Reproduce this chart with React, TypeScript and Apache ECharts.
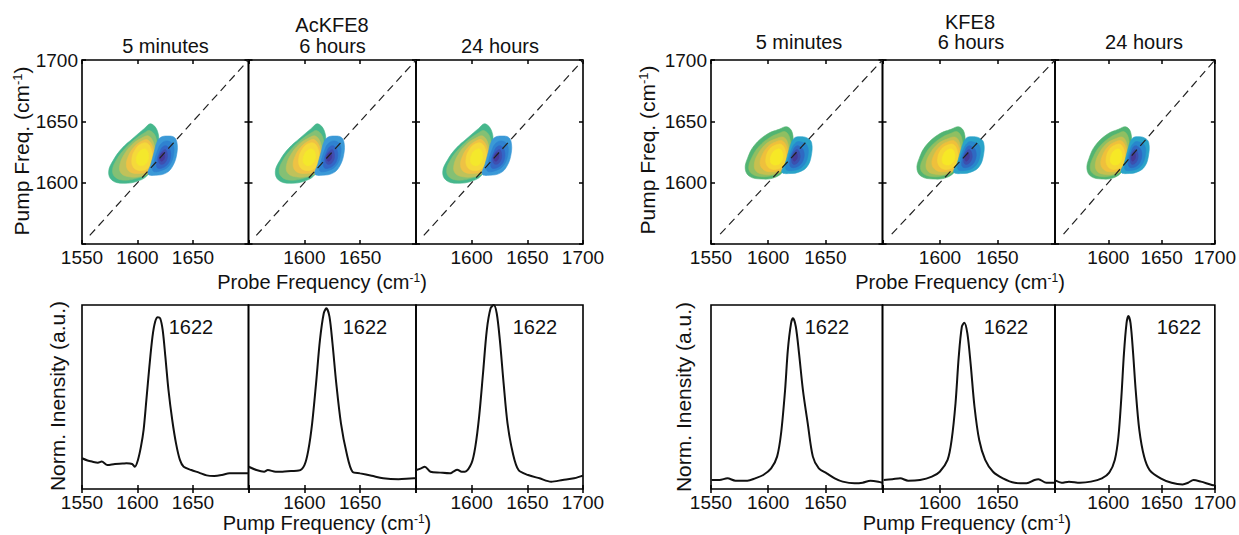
import React, { useEffect, useRef } from 'react';
import * as echarts from 'echarts';

const FONT = '"Liberation Sans", Arial, Helvetica, sans-serif';
const INK = '#111';

// ---------- texts / ticks ----------
const SAMPLES = ['AcKFE8', 'KFE8'];
const PANEL_TITLES = ['5 minutes', '6 hours', '24 hours'];
const X_TICKS = [1550, 1600, 1650, 1700];
const Y_TICKS = [1550, 1600, 1650, 1700];
const PEAK_LABEL = '1622';

// ---------- 1D pump-slice spectra [pump freq, norm. intensity] ----------
const AC_5MIN_SPEC = [[1550,0.167],[1555,0.155],[1559,0.149],[1564.3,0.143],[1567.7,0.149],[1572.9,0.130],[1579.7,0.136],[1586.6,0.138],[1590,0.140],[1595.2,0.136],[1597.6,0.121],[1600.4,0.158],[1603.1,0.230],[1605.5,0.321],[1608,0.484],[1610.7,0.665],[1613.5,0.828],[1615.9,0.909],[1618.3,0.933],[1620.4,0.928],[1622.7,0.864],[1625.1,0.719],[1627.9,0.538],[1631.3,0.375],[1634.7,0.248],[1638.2,0.158],[1641.6,0.121],[1648.5,0.103],[1655.4,0.089],[1662.3,0.074],[1669.1,0.071],[1676,0.076],[1682.9,0.085],[1696.7,0.085],[1700,0.085]];
const AC_6H_SPEC = [[1550.2,0.121],[1557.1,0.103],[1564,0.094],[1567.3,0.103],[1574.3,0.094],[1580.4,0.094],[1588,0.098],[1595,0.100],[1600.1,0.130],[1603.6,0.212],[1607,0.357],[1610.5,0.574],[1614,0.810],[1617.4,0.955],[1619.7,0.982],[1622.5,0.937],[1625.2,0.792],[1628.6,0.574],[1632.8,0.357],[1637.9,0.194],[1643.1,0.094],[1650,0.085],[1660.3,0.072],[1670.6,0.058],[1684.4,0.053],[1698.1,0.058],[1700,0.058]];
const AC_24H_SPEC = [[1550.3,0.103],[1554.5,0.112],[1557.9,0.121],[1563,0.094],[1571.7,0.089],[1580.3,0.085],[1583.5,0.094],[1587,0.105],[1591,0.094],[1594,0.094],[1599.9,0.140],[1603.3,0.230],[1606.7,0.393],[1610.2,0.629],[1613.6,0.864],[1617,0.982],[1619.8,1.0],[1622.5,0.955],[1625.3,0.810],[1628.7,0.574],[1632.2,0.357],[1637,0.194],[1642.1,0.103],[1650.7,0.076],[1661,0.058],[1671.4,0.040],[1681.7,0.049],[1692,0.058],[1698.9,0.071],[1700,0.072]];
const K_5MIN_SPEC = [[1550.5,0.049],[1557.4,0.049],[1564.4,0.058],[1571.4,0.045],[1581.8,0.045],[1588.7,0.058],[1595.7,0.076],[1602.6,0.112],[1607.8,0.176],[1611.3,0.303],[1614.8,0.538],[1617.2,0.755],[1620,0.900],[1621.7,0.928],[1624.2,0.882],[1627,0.737],[1630.4,0.538],[1634.6,0.357],[1639.1,0.176],[1644.3,0.112],[1651.2,0.085],[1658.2,0.058],[1665.2,0.040],[1675.6,0.031],[1682.6,0.034],[1689.5,0.045],[1696.4,0.040],[1700,0.034]];
const K_6H_SPEC = [[1551,0.049],[1558.6,0.053],[1565.4,0.058],[1572.3,0.045],[1582.6,0.049],[1592.9,0.067],[1599.8,0.094],[1606.6,0.158],[1610.1,0.266],[1613.5,0.466],[1616.3,0.719],[1619,0.882],[1621.1,0.904],[1623.8,0.846],[1626.6,0.683],[1630,0.447],[1634.1,0.266],[1639.3,0.158],[1646.1,0.094],[1654.7,0.058],[1665,0.034],[1675.3,0.031],[1682.2,0.049],[1685.6,0.053],[1692.5,0.034],[1699.3,0.034]];
const K_24H_SPEC = [[1550.7,0.045],[1556.2,0.034],[1563.1,0.040],[1573.4,0.034],[1583.7,0.040],[1594,0.058],[1600.9,0.089],[1606.1,0.158],[1609.5,0.284],[1612.3,0.502],[1614.7,0.737],[1617.1,0.900],[1618.8,0.940],[1620.9,0.900],[1623.3,0.737],[1625.7,0.538],[1629.1,0.321],[1633.6,0.176],[1638.8,0.103],[1649.1,0.058],[1659.4,0.034],[1669.7,0.025],[1674.9,0.034],[1680,0.049],[1686.9,0.040],[1697.2,0.022],[1700,0.02]];

// ---------- 2D IR contour levels [probe, pump] (outer -> inner) ----------
const AC_POS = [
  [[1612,1648],[1618,1642],[1619,1630],[1616,1618],[1610,1607],[1601,1601.5],[1587,1599.5],[1577,1602],[1574,1609],[1578,1618],[1586,1628],[1597,1637],[1606,1644]],
  [[1611,1642.5],[1616.5,1637],[1617,1626],[1614,1615],[1608,1607],[1599,1603.5],[1588,1602],[1580,1604.5],[1577.5,1610],[1581,1618.5],[1589,1628],[1598,1635.5],[1606,1640.5]],
  [[1610,1638],[1615,1631],[1616,1619],[1611.5,1609],[1602,1605],[1591,1605],[1585,1608],[1584,1614],[1588,1623],[1595,1631],[1603,1636]],
  [[1609,1635],[1614,1628],[1614.5,1617],[1610,1609.5],[1601,1607.5],[1593,1609],[1590,1614],[1592,1622],[1597,1629],[1603,1633.5]],
  [[1609,1632],[1613,1625],[1612.5,1616],[1608,1611],[1601,1610],[1596,1613],[1595,1620],[1598,1627],[1603,1631.5]],
  [[1608,1627],[1610,1621],[1607,1615],[1602,1614],[1599,1617],[1600,1623],[1604,1627]],
];
const AC_NEG = [
  [[1627.5,1638],[1633,1637],[1635.5,1633],[1635.5,1624],[1632,1614],[1626,1608],[1616,1606],[1609.5,1607],[1612,1615],[1615,1625],[1617.5,1633],[1621,1637]],
  [[1627,1634],[1632,1631],[1632.5,1623],[1629,1614.5],[1622,1610],[1614,1609.5],[1615,1617],[1618,1626],[1621.5,1632]],
  [[1626,1630],[1629.5,1626],[1629,1618],[1624.5,1613],[1618,1612],[1617.5,1618],[1620,1625],[1622.5,1629]],
  [[1625,1627],[1627,1622],[1625,1616.5],[1621,1615],[1619,1618],[1620.5,1623.5]],
  [[1623.5,1624.5],[1624.5,1620.5],[1622,1617.5],[1620,1619],[1621,1623]],
];
const K_POS = [
  [[1616.5,1645.5],[1621,1641],[1621.5,1630],[1619,1619],[1613,1609],[1605,1604],[1594,1603],[1584,1605],[1580,1611],[1582,1620],[1588,1630.5],[1599,1639.5],[1609.5,1643.5]],
  [[1615,1641.5],[1619,1636],[1619,1626],[1616,1616],[1610,1608],[1602,1605.5],[1593,1605],[1585.5,1607.5],[1583,1612.5],[1586,1621],[1592,1629.5],[1601,1636.5],[1609,1640]],
  [[1613.5,1637],[1617.5,1631],[1618,1620],[1613.5,1611],[1605,1607],[1595,1607],[1589,1610],[1588,1616],[1591.5,1624],[1598,1631.5],[1606,1635.5]],
  [[1612.5,1634],[1617,1627],[1617,1617],[1612.5,1610.5],[1604,1609],[1597,1610],[1593,1615],[1595,1623],[1600,1629.5],[1606,1633]],
  [[1612,1631],[1615.5,1624],[1615,1616],[1610.5,1612],[1603.5,1611],[1599,1614],[1598,1620],[1601,1627],[1606,1630.5]],
  [[1611,1627],[1613,1621],[1610,1615.5],[1605,1614.5],[1602,1617],[1603,1623],[1607,1627]],
];
const K_NEG = [
  [[1627,1637.5],[1634,1636.5],[1638,1632.5],[1637.5,1621],[1634,1613],[1628,1609],[1620,1607.5],[1612,1608.5],[1615,1616],[1618,1626],[1620.5,1633],[1623,1636.5]],
  [[1627,1633.5],[1634,1630.5],[1634.5,1621],[1630,1613],[1622,1610],[1615.5,1611],[1617.5,1619],[1620.5,1627.5],[1623.5,1632]],
  [[1626.5,1630],[1631,1626],[1630.5,1618],[1625.5,1613],[1619.5,1613],[1619.5,1620],[1622,1626.5],[1624,1629.5]],
  [[1625.5,1627],[1628,1622],[1626,1616.5],[1622,1615],[1620.5,1618.5],[1622,1624]],
  [[1624.5,1624.5],[1625.5,1620.5],[1623,1617.5],[1621.5,1619.5],[1622.5,1623]],
];
const AC_DIAG = [[1557, 1557], [1700, 1700]];
const K_DIAG = [[1558, 1558], [1700, 1700]];

// ---------- styles ----------
const AC_POS_COLORS = ['#46b78c', '#84c074', '#c0c25a', '#eec244', '#f5d93a', '#f4e82c'];
const AC_NEG_COLORS = ['#3b99d7', '#2f82d0', '#3366c6', '#3f4fb0', '#46399a'];
const K_POS_COLORS = ['#52b472', '#8fbf62', '#c6c04f', '#efc03c', '#f5d634', '#f6e826'];
const K_NEG_COLORS = ['#2aa3c9', '#2887cc', '#2f69c2', '#3c4fae', '#453b98'];

// layout (pixels)
const LEFT_EDGES = [82, 248.5, 416, 583];
const RIGHT_EDGES = [711, 882.5, 1055, 1228];
const TOP_Y = 60;
const TOP_H = 184;
const BOT_Y = 305;
const BOT_H = 184;

const GROUPS = [
  { pos: AC_POS, neg: AC_NEG, posC: AC_POS_COLORS, negC: AC_NEG_COLORS, diag: AC_DIAG, spec: [AC_5MIN_SPEC, AC_6H_SPEC, AC_24H_SPEC] },
  { pos: K_POS, neg: K_NEG, posC: K_POS_COLORS, negC: K_NEG_COLORS, diag: K_DIAG, spec: [K_5MIN_SPEC, K_6H_SPEC, K_24H_SPEC] },
];

const tickStyle = { color: '#000', width: 1.5 };

function xLabelShown(pos: number, v: number) {
  if (pos === 0) return v !== X_TICKS[X_TICKS.length - 1];
  if (pos === 1) return v !== X_TICKS[0] && v !== X_TICKS[X_TICKS.length - 1];
  return v !== X_TICKS[0];
}

function contourSeries(levels: number[][][], colors: string[], axis: number) {
  return {
    type: 'custom',
    xAxisIndex: axis,
    yAxisIndex: axis,
    silent: true,
    clip: true,
    z: 2,
    encode: { x: 0, y: 1 },
    data: levels.map((lv, i) => [lv[0][0], lv[0][1], i]),
    renderItem: (params: any, api: any) => {
      const lv = levels[params.dataIndex];
      const pts = lv.map((p) => api.coord(p));
      const c = colors[params.dataIndex];
      return {
        type: 'polygon',
        shape: { points: pts, smooth: 0.4 },
        style: { fill: c, stroke: c, lineWidth: 0.6 },
      };
    },
  };
}

function rt(main: string, after: string, size: number) {
  return {
    text: `{n|${main}}{s|-1}{n|${after}}`,
    rich: {
      n: { fontSize: size, fontFamily: FONT, fill: INK },
      s: { fontSize: Math.round(size * 0.6), fontFamily: FONT, fill: INK, verticalAlign: 'top' },
    },
  };
}

function buildOption() {
  const grid: any[] = [];
  const xAxis: any[] = [];
  const yAxis: any[] = [];
  const series: any[] = [];
  const graphic: any[] = [];

  for (let g = 0; g < 12; g++) {
    const bottom = g >= 6;
    const grp = Math.floor((g % 6) / 3);
    const pos = g % 3;
    const edges = grp === 0 ? LEFT_EDGES : RIGHT_EDGES;
    const left = edges[pos];
    const width = edges[pos + 1] - edges[pos];
    grid.push({
      left, width,
      top: bottom ? BOT_Y : TOP_Y,
      height: bottom ? BOT_H : TOP_H,
      show: true,
      borderColor: '#000',
      borderWidth: 1.6,
      backgroundColor: 'transparent',
      containLabel: false,
    });
    const xBase = {
      gridIndex: g, type: 'value', min: X_TICKS[0], max: X_TICKS[X_TICKS.length - 1], interval: 50,
      axisLine: { show: false },
      splitLine: { show: false },
      axisTick: { show: true, inside: true, length: 4, lineStyle: tickStyle },
    };
    xAxis.push({
      ...xBase, position: 'bottom',
      axisLabel: {
        show: true, margin: 4, fontSize: 19, fontFamily: FONT, color: INK,
        formatter: (v: number) => (xLabelShown(pos, v) ? String(v) : ''),
      },
    });
    xAxis.push({ ...xBase, position: 'top', axisLabel: { show: false } });

    if (!bottom) {
      const yBase = {
        gridIndex: g, type: 'value', min: Y_TICKS[0], max: Y_TICKS[Y_TICKS.length - 1], interval: 50,
        axisLine: { show: false }, splitLine: { show: false },
        axisTick: { show: true, inside: true, length: 4, lineStyle: tickStyle },
      };
      yAxis.push({
        ...yBase, position: 'left',
        axisLabel: {
          show: pos === 0, margin: 4, fontSize: 19, fontFamily: FONT, color: INK,
          formatter: (v: number) => (v === Y_TICKS[0] ? '' : String(v)),
        },
      });
      yAxis.push({ ...yBase, position: 'right', axisLabel: { show: false } });
    } else {
      const yBase = {
        gridIndex: g, type: 'value', min: 0, max: 1,
        axisLine: { show: false }, splitLine: { show: false },
        axisTick: { show: false }, axisLabel: { show: false },
      };
      yAxis.push({ ...yBase, position: 'left' });
      yAxis.push({ ...yBase, position: 'right' });
    }

    const ax = 2 * g;
    const G = GROUPS[grp];
    if (!bottom) {
      series.push(contourSeries(G.pos, G.posC, ax));
      series.push(contourSeries(G.neg, G.negC, ax));
      series.push({
        type: 'line', xAxisIndex: ax, yAxisIndex: ax, data: G.diag, showSymbol: false, silent: true, z: 5,
        lineStyle: { color: '#222', width: 1.2, type: [8, 5] },
      });
    } else {
      series.push({
        type: 'line', xAxisIndex: ax, yAxisIndex: ax, data: G.spec[pos], showSymbol: false, silent: true,
        smooth: 0.3, z: 3, lineStyle: { color: INK, width: 2 },
      });
    }
  }

  // titles
  const txt = (x: number, y: number, text: string, size = 20) => ({
    type: 'text', x, y, silent: true,
    style: { text, fontSize: size, fontFamily: FONT, fill: INK, align: 'center', verticalAlign: 'middle' },
  });
  graphic.push(txt(332, 25, SAMPLES[0]));
  graphic.push(txt(970, 22, SAMPLES[1]));
  const leftCenters = [165.5, 332.5, 500];
  const rightCenters = [799, 971, 1144];
  PANEL_TITLES.forEach((t, i) => {
    graphic.push(txt(leftCenters[i], 46, t));
    graphic.push(txt(rightCenters[i], 42, t));
  });
  const peakXs = [191, 365, 535, 827, 1006, 1179];
  peakXs.forEach((x) => graphic.push(txt(x, 327, PEAK_LABEL, 20)));

  const hTitle = (x: number, y: number, a: string, b: string) => ({
    type: 'text', x, y, silent: true,
    style: { ...rt(a, b, 20), align: 'center', verticalAlign: 'middle' },
  });
  graphic.push(hTitle(322, 282, 'Probe Frequency (cm', ')'));
  graphic.push(hTitle(960, 282, 'Probe Frequency (cm', ')'));
  graphic.push(hTitle(327, 523, 'Pump Frequency (cm', ')'));
  graphic.push(hTitle(967, 523, 'Pump Frequency (cm', ')'));

  const vTitle = (x: number, y: number, a: string, b: string) => ({
    type: 'text', x, y, rotation: Math.PI / 2, silent: true,
    style: { ...rt(a, b, 21), align: 'center', verticalAlign: 'middle' },
  });
  graphic.push(vTitle(21, 151, 'Pump Freq. (cm', ')'));
  graphic.push(vTitle(647, 150, 'Pump Freq. (cm', ')'));
  const vPlain = (x: number, y: number, text: string) => ({
    type: 'text', x, y, rotation: Math.PI / 2, silent: true,
    style: { text, fontSize: 21, fontFamily: FONT, fill: INK, align: 'center', verticalAlign: 'middle' },
  });
  graphic.push(vPlain(57, 396, 'Norm. Inensity (a.u.)'));
  graphic.push(vPlain(683, 397, 'Norm. Inensity (a.u.)'));

  return {
    animation: false,
    backgroundColor: '#fff',
    grid, xAxis, yAxis, series, graphic,
  };
}

export default function App() {
  const ref = useRef<HTMLDivElement>(null);
  useEffect(() => {
    if (!ref.current) return;
    const chart = echarts.init(ref.current, undefined, { renderer: 'svg' });
    chart.setOption(buildOption() as any);
    return () => chart.dispose();
  }, []);
  return (
    <div
      ref={ref}
      style={{ position: 'absolute', left: 0, top: 0, width: 1239, height: 535, background: '#fff' }}
    />
  );
}
